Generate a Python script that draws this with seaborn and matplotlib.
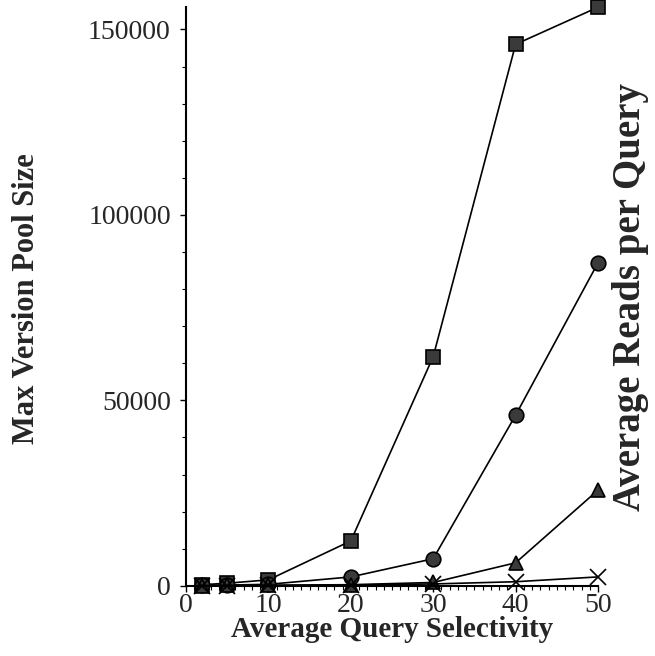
import numpy as np
import pandas as pd
import seaborn as sns
import matplotlib.pyplot as plt
from matplotlib.ticker import MultipleLocator

# data
selectivity = [2, 5, 10, 20, 30, 40, 50]
pool_square = [300, 700, 1600, 12100, 61800, 146000, 156000]
pool_circle = [100, 200, 400, 2400, 7300, 46000, 87100]
pool_triangle = [50, 100, 150, 300, 900, 6200, 25800]
pool_cross = [20, 50, 100, 200, 500, 1100, 2400]

sns.set_theme(style="ticks")
plt.rcParams['font.family'] = ['Liberation Serif', 'DejaVu Serif']

fig = plt.figure(figsize=(6.55, 6.56), dpi=100)
ax = fig.add_axes([0.284, 0.107, 0.629, 0.882])

series = [
    (pool_square, 's', 10),
    (pool_circle, 'o', 10.5),
    (pool_triangle, '^', 10),
    (pool_cross, 'x', 12),
]
for vals, mk, ms in series:
    df = pd.DataFrame({'sel': selectivity, 'size': vals})
    sns.lineplot(data=df, x='sel', y='size', ax=ax, color='black', lw=1.2,
                 marker=mk, markersize=ms, markerfacecolor='#3a3a3a',
                 markeredgecolor='black', markeredgewidth=1.2, clip_on=False)

ax.set_xlim(0, 50)
ax.set_ylim(0, 156000)
ax.set_xticks([0, 10, 20, 30, 40, 50])
ax.set_yticks([0, 50000, 100000, 150000])
ax.xaxis.set_minor_locator(MultipleLocator(1))
ax.yaxis.set_minor_locator(MultipleLocator(10000))
ax.tick_params(axis='both', which='major', labelsize=20, direction='out',
               length=4, width=1, color='black')
ax.tick_params(axis='both', which='minor', direction='out', length=3,
               width=0.8, color='black')
ax.tick_params(axis='y', which='major', pad=7)
ax.tick_params(axis='x', which='major', pad=1)
for s in ['top', 'right']:
    ax.spines[s].set_visible(False)
for s in ['left', 'bottom']:
    ax.spines[s].set_color('black')
    ax.spines[s].set_linewidth(1.5)

ax.set_xlabel('Average Query Selectivity', fontsize=21, fontweight='bold', va='center')
ax.xaxis.set_label_coords(0.5, -0.076)
ax.set_ylabel('Max Version Pool Size', fontsize=22, fontweight='bold', va='center')
ax.yaxis.set_label_coords(-0.386, 0.496)

fig.text(0.963, 0.547, 'Average Reads per Query', rotation=90, fontsize=28,
         fontweight='bold', ha='center', va='center')

fig.savefig('out.png', dpi=100, facecolor='white')
